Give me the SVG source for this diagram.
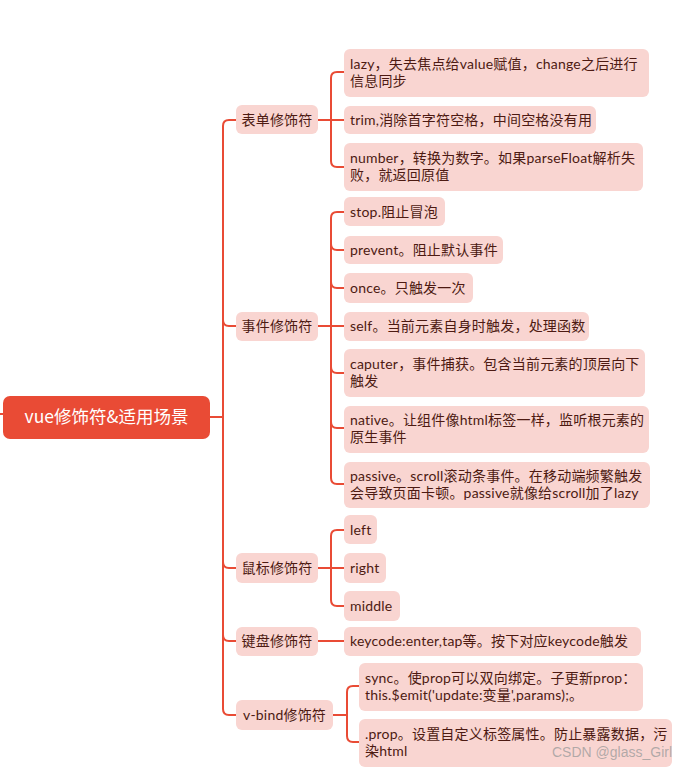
<svg xmlns="http://www.w3.org/2000/svg" width="694" height="773" viewBox="0 0 694 773">
<style>
.ln{fill:none;stroke:#E94B35;stroke-width:2;stroke-linecap:round;stroke-linejoin:round}
.bx{fill:#F9D5D1}
.t{font-family:Lato,"Noto Sans CJK SC",sans-serif;font-size:14px;letter-spacing:0.2px;fill:#4D1A12}
.c{text-anchor:middle}
.r{font-family:"Noto Sans CJK SC","Noto Sans",sans-serif;font-size:17.5px;fill:#FFFFFF;text-anchor:middle}
.wm{font-family:"Liberation Sans",Arial,sans-serif;font-size:14px;fill:#9a9a9a;fill-opacity:0.75}
</style>
<rect width="694" height="773" fill="#FFFFFF"/>
<g id="connectors">
<path class="ln" d="M0,414 H3"/>
<path class="ln" d="M210,417 H223"/>
<path class="ln" d="M236,120 H229 Q223,120 223,126 V709 Q223,715 229,715 H236"/>
<path class="ln" d="M223,320 Q223,326 229,326 H236"/>
<path class="ln" d="M223,562 Q223,568 229,568 H236"/>
<path class="ln" d="M223,635 Q223,641 229,641 H236"/>
<path class="ln" d="M318,120 H344"/>
<path class="ln" d="M344,72 H337 Q331,72 331,78 V161 Q331,167 337,167 H344"/>
<path class="ln" d="M318,326 H344"/>
<path class="ln" d="M344,212 H337 Q331,212 331,218 V478 Q331,484 337,484 H344"/>
<path class="ln" d="M331,244 Q331,250 337,250 H344"/>
<path class="ln" d="M331,282 Q331,288 337,288 H344"/>
<path class="ln" d="M331,367 Q331,373 337,373 H344"/>
<path class="ln" d="M331,422 Q331,428 337,428 H344"/>
<path class="ln" d="M318,568 H344"/>
<path class="ln" d="M344,530 H337 Q331,530 331,536 V600 Q331,606 337,606 H344"/>
<path class="ln" d="M318,641 H344"/>
<path class="ln" d="M333,715 H347"/>
<path class="ln" d="M359,686 H353 Q347,686 347,692 V736 Q347,742 353,742 H359"/>
</g>
<g id="root">
<rect x="3" y="396" width="207" height="43" rx="7" fill="#E94B35"/>
<text class="r" x="106.5" y="423">vue修饰符&amp;适用场景</text>
</g>
<g id="n-biaodan">
<rect class="bx" x="236" y="105" width="82" height="29" rx="6"/>
<text class="t c" x="277" y="125">表单修饰符</text>
</g>
<g id="n-lazy">
<rect class="bx" x="344" y="49" width="305" height="48" rx="6"/>
<text class="t" x="350" y="69">lazy，失去焦点给value赋值，change之后进行<tspan x="350" dy="17">信息同步</tspan></text>
</g>
<g id="n-trim">
<rect class="bx" x="344" y="106" width="252" height="28" rx="6"/>
<text class="t" x="350" y="125">trim,消除首字符空格，中间空格没有用</text>
</g>
<g id="n-number">
<rect class="bx" x="344" y="143" width="299" height="48" rx="6"/>
<text class="t" x="350" y="163">number，转换为数字。如果parseFloat解析失<tspan x="350" dy="17">败，就返回原值</tspan></text>
</g>
<g id="n-shijian">
<rect class="bx" x="236" y="312" width="82" height="29" rx="6"/>
<text class="t c" x="277" y="331">事件修饰符</text>
</g>
<g id="n-stop">
<rect class="bx" x="344" y="197" width="101" height="29" rx="6"/>
<text class="t" x="350" y="217">stop.阻止冒泡</text>
</g>
<g id="n-prevent">
<rect class="bx" x="344" y="236" width="159" height="28" rx="6"/>
<text class="t" x="350" y="255">prevent。阻止默认事件</text>
</g>
<g id="n-once">
<rect class="bx" x="344" y="273" width="129" height="30" rx="6"/>
<text class="t" x="350" y="293">once。只触发一次</text>
</g>
<g id="n-self">
<rect class="bx" x="344" y="312" width="245" height="29" rx="6"/>
<text class="t" x="350" y="331">self。当前元素自身时触发，处理函数</text>
</g>
<g id="n-caputer">
<rect class="bx" x="344" y="349" width="301" height="48" rx="6"/>
<text class="t" x="350" y="369">caputer，事件捕获。包含当前元素的顶层向下<tspan x="350" dy="17">触发</tspan></text>
</g>
<g id="n-native">
<rect class="bx" x="344" y="406" width="305" height="47" rx="6"/>
<text class="t" x="350" y="425">native。让组件像html标签一样，监听根元素的<tspan x="350" dy="17">原生事件</tspan></text>
</g>
<g id="n-passive">
<rect class="bx" x="344" y="462" width="306" height="46" rx="6"/>
<text class="t" x="350" y="481">passive。scroll滚动条事件。在移动端频繁触发<tspan x="350" dy="17">会导致页面卡顿。passive就像给scroll加了lazy</tspan></text>
</g>
<g id="n-shubiao">
<rect class="bx" x="236" y="553" width="82" height="30" rx="6"/>
<text class="t c" x="277" y="573">鼠标修饰符</text>
</g>
<g id="n-left">
<rect class="bx" x="344" y="515" width="33" height="29" rx="6"/>
<text class="t" x="350" y="535">left</text>
</g>
<g id="n-right">
<rect class="bx" x="344" y="553" width="42" height="30" rx="6"/>
<text class="t" x="350" y="573">right</text>
</g>
<g id="n-middle">
<rect class="bx" x="344" y="591" width="56" height="30" rx="6"/>
<text class="t" x="350" y="611">middle</text>
</g>
<g id="n-jianpan">
<rect class="bx" x="236" y="627" width="82" height="29" rx="6"/>
<text class="t c" x="277" y="646">键盘修饰符</text>
</g>
<g id="n-keycode">
<rect class="bx" x="344" y="627" width="297" height="29" rx="6"/>
<text class="t" x="350" y="646">keycode:enter,tap等。按下对应keycode触发</text>
</g>
<g id="n-vbind">
<rect class="bx" x="236" y="700" width="97" height="30" rx="6"/>
<text class="t c" x="284.5" y="720">v-bind修饰符</text>
</g>
<g id="n-sync">
<rect class="bx" x="359" y="663" width="284" height="48" rx="6"/>
<text class="t" x="365" y="683">sync。使prop可以双向绑定。子更新prop：<tspan x="365" dy="17">this.$emit('update:变量',params);。</tspan></text>
</g>
<g id="n-prop">
<rect class="bx" x="359" y="719" width="313" height="48" rx="6"/>
<text class="t" x="365" y="739">.prop。设置自定义标签属性。防止暴露数据，污<tspan x="365" dy="17">染html</tspan></text>
</g>
<text class="wm" x="552" y="757">CSDN @glass_Girl</text>
</svg>
